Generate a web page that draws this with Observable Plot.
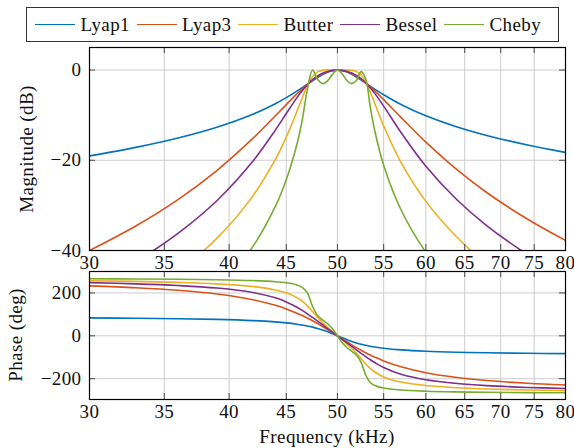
<!DOCTYPE html>
<html>
<head>
<meta charset="utf-8">
<script src="https://cdn.jsdelivr.net/npm/d3@7"></script>
<script src="https://cdn.jsdelivr.net/npm/@observablehq/plot@0.6"></script>
<style>
  html, body { margin: 0; padding: 0; background: white; }
  #wrap { position: relative; width: 574px; height: 448px; overflow: hidden; font-family: "Liberation Serif", serif; color: #111; letter-spacing: 0.4px; }
  #legend { position: absolute; left: 26px; top: 7px; width: 523px; height: 33px; border: 1px solid #333; display: flex; align-items: center; padding-left: 8px; box-sizing: content-box; font-size: 19px; }
  .item { display: flex; align-items: center; margin-right: 6.5px; }
  .swatch { width: 40px; height: 0; border-top: 1.6px solid; margin-right: 5.5px; }
  .lab { position: absolute; font-size: 19px; white-space: nowrap; transform: translate(-50%, -50%); }
  .rot { transform: translate(-50%, -50%) rotate(-90deg); }
  .panel { position: absolute; left: 0; }
</style>
</head>
<body>
<div id="wrap">
  <div id="legend"></div>
  <div id="top" class="panel" style="top:42px"></div>
  <div id="bot" class="panel" style="top:270px"></div>
  <div class="lab rot" style="left:27px; top:149px">Magnitude (dB)</div>
  <div class="lab rot" style="left:16px; top:335px">Phase (deg)</div>
  <div class="lab" style="left:327px; top:437px">Frequency (kHz)</div>
</div>
<script>
// ---- data ----
const seriesNames  = ["Lyap1", "Lyap3", "Butter", "Bessel", "Cheby"];
const seriesColors = ["#0072BD", "#D95319", "#EDB120", "#7E2F8E", "#77AC30"];
const xTicks = [30, 35, 40, 45, 50, 55, 60, 65, 70, 75, 80];
const magTicks = [-40, -20, 0];
const phaseTicks = [-200, 0, 200];

const freq = [30, 33, 36, 39, 42, 44, 45, 46, 46.5, 47, 47.5, 48, 48.5, 49, 49.5, 50,
              50.5, 51, 51.5, 52, 52.5, 53, 53.5, 54, 55, 57, 60, 64, 68, 74, 80];

const lyap1Mag = [-19.03,-17.14,-15.06,-12.67,-9.79,-7.45,-6.12,-4.68,-3.92,-3.15,-2.38,-1.65,-1.00,-0.47,-0.12,0,
                  -0.12,-0.45,-0.94,-1.55,-2.21,-2.89,-3.57,-4.23,-5.48,-7.63,-10.15,-12.62,-14.49,-16.62,-18.26];
const lyap3Mag = [-40.00,-34.56,-28.71,-22.28,-15.16,-10.13,-7.65,-5.29,-4.20,-3.18,-2.27,-1.49,-0.85,-0.38,-0.10,0,
                  -0.09,-0.37,-0.80,-1.38,-2.07,-2.86,-3.72,-4.63,-6.55,-10.49,-15.99,-22.14,-27.14,-33.08,-37.78];
const butterMag = [-56.93,-51.17,-44.77,-37.30,-27.94,-19.82,-14.86,-9.16,-6.18,-3.44,-1.43,-0.41,-0.07,-0.01,0,0,
                   0,-0.01,-0.06,-0.33,-1.11,-2.65,-4.87,-7.39,-12.36,-20.47,-29.11,-37.12,-42.99,-49.58,-54.59];
const besselMag = [-48.18,-42.49,-36.20,-28.97,-20.23,-13.31,-9.63,-6.11,-4.56,-3.23,-2.14,-1.31,-0.71,-0.31,-0.08,0,
                   -0.07,-0.30,-0.67,-1.21,-1.92,-2.83,-3.92,-5.17,-7.99,-13.83,-21.30,-28.80,-34.46,-40.92,-45.87];
const chebyMag = [-68.87,-63.06,-56.58,-48.94,-39.15,-30.24,-24.34,-16.46,-11.14,-4.28,-0.02,-2.06,-3.00,-2.39,-0.91,0,
                  -0.89,-2.34,-3.00,-2.33,-0.34,-1.95,-8.17,-13.46,-21.10,-30.97,-40.40,-48.76,-54.77,-61.45,-66.51];

const lyap1Phase = [83.58,82.01,79.83,76.56,71.10,64.91,60.38,54.29,50.45,45.90,40.53,34.26,26.93,18.62,9.51,0,
                    -9.41,-18.27,-26.23,-33.18,-39.13,-44.18,-48.46,-52.09,-57.85,-65.46,-71.88,-76.47,-79.13,-81.51,-82.98];
const lyap3Phase = [232.99,224.18,212.19,194.94,168.43,142.17,125.43,105.77,94.83,83.05,70.50,57.33,43.50,29.22,14.64,0,
                    -14.49,-28.64,-42.25,-55.21,-67.44,-78.87,-89.51,-99.38,-116.88,-144.32,-172.02,-194.49,-208.41,-221.42,-229.61];
const butterPhase = [257.08,253.87,249.33,242.33,229.91,213.97,200.36,178.18,161.52,139.50,113.07,86.04,61.34,39.45,19.29,0,
                     -19.09,-38.60,-59.28,-81.97,-106.55,-130.89,-152.08,-168.89,-191.75,-215.48,-231.75,-242.15,-247.85,-252.84,-255.86];
const besselPhase = [247.93,242.45,234.70,222.82,202.09,177.10,158.23,133.30,118.55,102.47,85.58,68.41,51.09,33.90,16.85,0,
                     -16.68,-33.20,-49.55,-65.69,-81.52,-96.81,-111.30,-124.71,-147.70,-179.36,-205.13,-222.50,-232.18,-240.69,-245.85];
const chebyPhase = [266.13,265.16,263.78,261.63,257.70,252.33,247.26,237.12,226.20,200.11,137.80,94.78,74.19,56.36,32.83,0,
                    -32.54,-55.56,-72.64,-90.83,-123.71,-182.84,-217.39,-231.58,-243.69,-252.85,-258.29,-261.57,-263.33,-264.85,-265.76];

// ---- table built from the arrays ----
const magSeries = [lyap1Mag, lyap3Mag, butterMag, besselMag, chebyMag];
const phaseSeries = [lyap1Phase, lyap3Phase, butterPhase, besselPhase, chebyPhase];
const rows = [];
seriesNames.forEach((s, k) => {
  freq.forEach((f, i) => rows.push({s, f, mag: magSeries[k][i], phase: phaseSeries[k][i]}));
});

// ---- styling ----
const W = 574, ML = 89, MR = 9;
const FW = W - ML - MR;
const gridColor = "#cccccc";
const tickColor = "#4a4a4a";
const TL = 6;
const font = {fontFamily: "'Liberation Serif', serif", fontSize: "19px", letterSpacing: "0.4px", background: "transparent", color: "#111", overflow: "visible"};

function panel(yKey, yDomain, yTicks, height, mt, mb) {
  const FH = height - mt - mb;
  return Plot.plot({
    width: W, height, marginLeft: ML, marginRight: MR, marginTop: mt, marginBottom: mb,
    style: font,
    x: {type: "log", domain: [30, 80], ticks: xTicks, tickFormat: d => String(d), tickSize: 0, tickPadding: 5, label: null},
    y: {domain: yDomain, ticks: yTicks, tickSize: 0, tickPadding: 8, label: null},
    color: {domain: seriesNames, range: seriesColors},
    marks: [
      Plot.ruleX(xTicks, {stroke: gridColor, strokeWidth: 1}),
      Plot.ruleY(yTicks, {stroke: gridColor, strokeWidth: 1}),
      Plot.line(rows, {x: "f", y: yKey, z: "s", stroke: "s", strokeWidth: 1.6, curve: "catmull-rom", clip: true}),
      Plot.ruleX(xTicks, {stroke: tickColor, insetTop: FH - TL}),
      Plot.ruleX(xTicks, {stroke: tickColor, insetBottom: FH - TL}),
      Plot.ruleY(yTicks, {stroke: tickColor, insetRight: FW - TL}),
      Plot.ruleY(yTicks, {stroke: tickColor, insetLeft: FW - TL}),
      Plot.frame({stroke: "black", strokeWidth: 1.2})
    ]
  });
}

document.getElementById("top").appendChild(panel("mag", [-40, 5], magTicks, 228, 5, 20));
document.getElementById("bot").appendChild(panel("phase", [-297, 300], phaseTicks, 178, 1, 49));

// ---- legend ----
const legend = document.getElementById("legend");
seriesNames.forEach((name, k) => {
  const it = document.createElement("div");
  it.className = "item";
  const sw = document.createElement("div");
  sw.className = "swatch";
  sw.style.borderTopColor = seriesColors[k];
  const tx = document.createElement("span");
  tx.textContent = name;
  it.appendChild(sw); it.appendChild(tx);
  legend.appendChild(it);
});
</script>
</body>
</html>
